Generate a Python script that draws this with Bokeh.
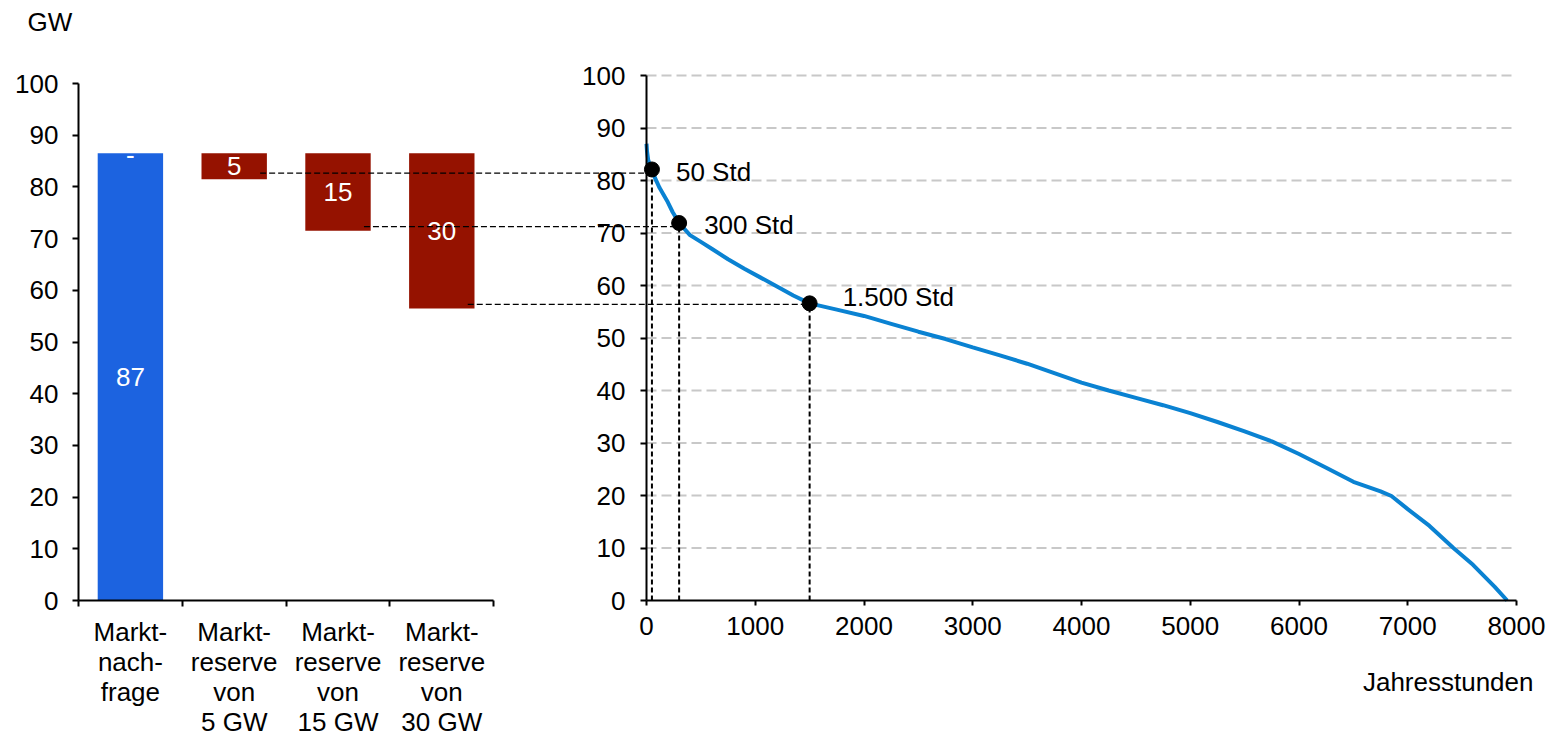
from bokeh.plotting import figure
from bokeh.models import Range1d, FixedTicker, LinearAxis
from bokeh.embed import file_html
from bokeh.resources import INLINE
from bokeh.core.properties import value

FONT = "Liberation Sans"
FS = "26px"

# ---------------- data: left chart ----------------
categories = ["Markt-\nnach-\nfrage",
              "Markt-\nreserve\nvon\n5 GW",
              "Markt-\nreserve\nvon\n15 GW",
              "Markt-\nreserve\nvon\n30 GW"]
demand = 86.5
reserves = [5, 15, 30]
bar_labels = ["87", "5", "15", "30"]
y_ticks = list(range(0, 101, 10))

# ---------------- data: right chart ----------------
hours = [0, 5, 15, 30, 50, 80, 120, 190, 240, 300, 400, 500, 600, 750, 900,
         1050, 1200, 1350, 1500, 1750, 2000, 2250, 2500, 2750, 3000, 3250,
         3500, 3750, 4000, 4250, 4500, 4750, 5000, 5250, 5500, 5750, 6000,
         6250, 6500, 6750, 6850, 7000, 7200, 7420, 7600, 7800, 7914]
load = [87.0, 85.5, 84.0, 83.0, 82.1, 80.4, 78.6, 76.1, 74.0, 71.9, 69.6,
        68.3, 67.0, 65.0, 63.2, 61.5, 59.8, 58.1, 56.6, 55.4, 54.2, 52.7,
        51.2, 49.8, 48.2, 46.7, 45.1, 43.3, 41.5, 40.0, 38.6, 37.2, 35.7,
        34.0, 32.2, 30.3, 27.9, 25.3, 22.6, 20.8, 19.9, 17.4, 14.2, 10.0,
        6.8, 2.6, 0.0]
marked_hours = [50, 300, 1500]
marked_load = [82.1, 71.9, 56.6]
marked_labels = ["50 Std", "300 Std", "1.500 Std"]
guide_levels = [81.4, 71.2, 56.4]
x_ticks = list(range(0, 8001, 1000))
unit_label = "GW"
x_title = "Jahresstunden"

BLUE = "#1C63E0"
RED = "#951200"
LINE = "#0A82D2"

# ---------------- layout (pixels) -> ranges of one shared frame ----------------
W, H = 1564, 737
LEFT_AXIS_X, CAT_PX = 78, 103.8        # left panel: y axis position, px per category
HR_AXIS_X, HR_END_X = 646, 1516        # right panel: 0 h and 8000 h
ZERO_Y, LOAD_TOP_Y, BAR_TOP_Y = 600, 75, 83

hr_s = (HR_END_X - HR_AXIS_X) / x_ticks[-1]
HR = Range1d(-HR_AXIS_X / hr_s, x_ticks[-1] + (W - HR_END_X) / hr_s)
CAT = Range1d(-LEFT_AXIS_X / CAT_PX, (W - LEFT_AXIS_X) / CAT_PX)
load_s = (ZERO_Y - LOAD_TOP_Y) / 100
LOAD = Range1d(-(H - ZERO_Y) / load_s, 100 + LOAD_TOP_Y / load_s)
bar_s = (ZERO_Y - BAR_TOP_Y) / 100
BAR = Range1d(-(H - ZERO_Y) / bar_s, 100 + BAR_TOP_Y / bar_s)


def cat_to_hours(c):
    frac = (c - CAT.start) / (CAT.end - CAT.start)
    return HR.start + frac * (HR.end - HR.start)


p = figure(width=W, height=H, x_range=HR, y_range=LOAD, title=None,
           output_backend="svg", toolbar_location=None,
           min_border_left=0, min_border_right=0, min_border_top=0, min_border_bottom=0)
p.extra_x_ranges = {"cat": CAT}
p.extra_y_ranges = {"bar": BAR}
p.outline_line_color = None
p.grid.visible = False

# grid of the right panel (only over the duration-curve area)
n = len(y_ticks) - 1
p.segment(x0=[x_ticks[0]] * n, y0=y_ticks[1:], x1=[x_ticks[-1]] * n, y1=y_ticks[1:],
          line_color="#C8C8C8", line_width=2, line_dash="10 5")

# ---------------- left panel: bars ----------------
positions = [i + 0.5 for i in range(len(categories))]
p.vbar(x=[positions[0]], bottom=[0], top=[demand], width=0.63, fill_color=BLUE,
       line_color=None, x_range_name="cat", y_range_name="bar")
p.vbar(x=positions[1:], bottom=[demand - r for r in reserves], top=[demand] * len(reserves),
       width=0.63, fill_color=RED, line_color=None, x_range_name="cat", y_range_name="bar")

mids = [demand / 2] + [demand - r / 2 for r in reserves]
p.text(x=positions, y=mids, text=bar_labels, text_color="white", text_font=value(FONT),
       text_font_size=FS, text_align="center", text_baseline="middle",
       x_range_name="cat", y_range_name="bar")
p.text(x=[positions[0]], y=[demand], text=["-"], text_color="white", text_font=value(FONT),
       text_font_size=FS, text_align="center", text_baseline="middle", y_offset=2,
       x_range_name="cat", y_range_name="bar")

# ---------------- connecting dashed lines ----------------
p.segment(x0=[cat_to_hours(c + 0.25) for c in positions[1:]], y0=guide_levels,
          x1=marked_hours, y1=guide_levels,
          line_color="black", line_width=1.3, line_dash="6 3")
p.segment(x0=marked_hours, y0=[0] * 3, x1=marked_hours, y1=marked_load,
          line_color="black", line_width=2, line_dash="5 3")

# ---------------- right panel: duration curve ----------------
p.line(hours, load, line_color=LINE, line_width=4)
p.scatter(marked_hours, marked_load, size=15, fill_color="black", line_color="black")
p.text(x=marked_hours, y=marked_load, text=marked_labels, x_offset=[24, 25, 33],
       y_offset=[3, 2, -6], text_font=value(FONT), text_font_size=FS,
       text_align="left", text_baseline="middle", text_color="black")


# ---------------- axes ----------------
def style(ax, standoff, tick_out=6):
    ax.axis_line_width = 2
    ax.axis_line_color = "black"
    ax.major_tick_out = tick_out
    ax.major_tick_in = 0
    ax.major_tick_line_width = 2
    ax.major_tick_line_color = "black"
    ax.minor_tick_line_color = None
    ax.major_label_text_font = FONT
    ax.major_label_text_font_size = FS
    ax.major_label_text_color = "black"
    ax.major_label_standoff = standoff


# right panel y axis, sitting at 0 h
ry = p.yaxis[0]
ry.ticker = FixedTicker(ticks=y_ticks)
ry.fixed_location = 0
ry.bounds = (0, 100)
style(ry, 15)

# right panel x axis, sitting at 0 GW
rx = p.xaxis[0]
rx.ticker = FixedTicker(ticks=x_ticks)
rx.fixed_location = 0
rx.bounds = (x_ticks[0], x_ticks[-1])
style(rx, 11, tick_out=5)

# left panel y axis
ly = LinearAxis(x_range_name="cat", y_range_name="bar", fixed_location=0,
                ticker=FixedTicker(ticks=y_ticks), bounds=(0, 100))
style(ly, 14)
p.add_layout(ly, "left")

# left panel category axis
lx = LinearAxis(x_range_name="cat", y_range_name="bar", fixed_location=0,
                ticker=FixedTicker(ticks=positions, minor_ticks=list(range(len(categories) + 1))),
                bounds=(0, len(categories)))
style(lx, 10, tick_out=0)
lx.major_tick_line_color = None
lx.minor_tick_line_color = "black"
lx.minor_tick_line_width = 2
lx.minor_tick_out = 6
lx.minor_tick_in = 0
lx.major_label_overrides = {pos: c for pos, c in zip(positions, categories)}
lx.major_label_text_line_height = 1.0
p.add_layout(lx, "below")

# unit label (above the left axis) and x axis title (below the right axis end)
p.text(x=[0], y=[100], text=[unit_label], x_offset=-51, y_offset=-62,
       text_font=value(FONT), text_font_size=FS, text_align="left",
       text_baseline="alphabetic", text_color="black",
       x_range_name="cat", y_range_name="bar")
p.text(x=[x_ticks[-1]], y=[0], text=[x_title], x_offset=17, y_offset=81,
       text_font=value(FONT), text_font_size=FS, text_align="right",
       text_baseline="alphabetic", text_color="black")

open("out.html", "w").write(file_html(p, INLINE, title="Lastdauerlinie"))
